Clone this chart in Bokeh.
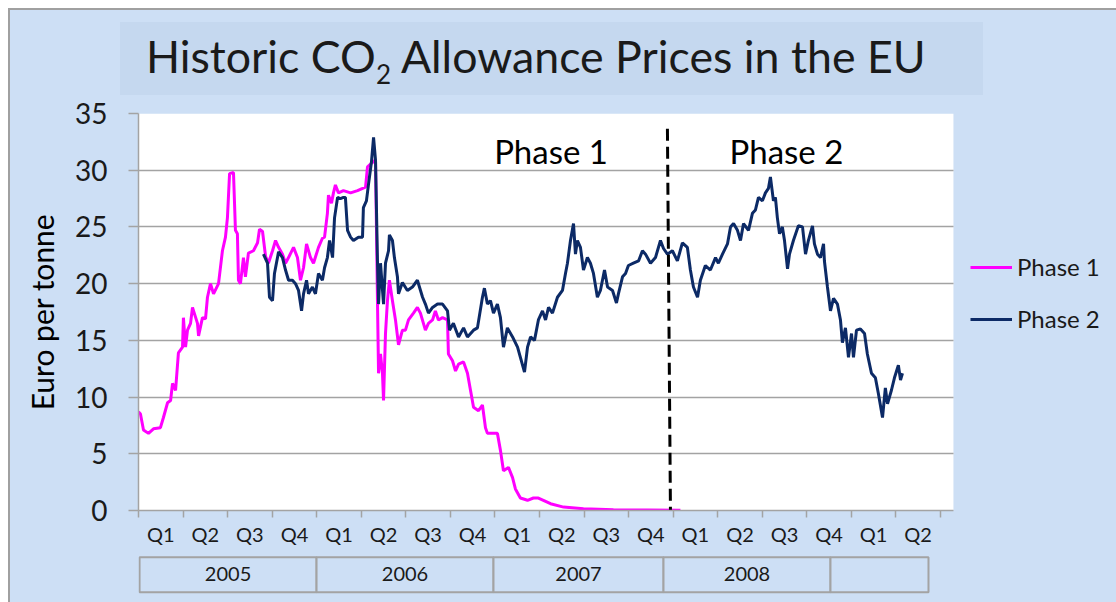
from bokeh.plotting import figure
from bokeh.models import Range1d, FixedTicker, Legend, LegendItem, Label, Div, Grid
from bokeh.layouts import column
from bokeh.embed import file_html
from bokeh.resources import INLINE
from bokeh.core.properties import value

# ---------------- data (x = years since 1 Jan 2005) ----------------
p1_t = [0.000, 0.011, 0.028, 0.056, 0.084, 0.123, 0.140, 0.163, 0.180, 0.191,
        0.208, 0.224, 0.247, 0.252, 0.264, 0.275, 0.292, 0.303, 0.309, 0.331,
        0.337, 0.359, 0.376, 0.387, 0.404, 0.421, 0.449, 0.471, 0.488, 0.499,
        0.511, 0.533, 0.544, 0.555, 0.561, 0.572, 0.589, 0.600, 0.617, 0.645,
        0.668, 0.679, 0.696, 0.713, 0.729, 0.752, 0.769, 0.786, 0.808, 0.825,
        0.842, 0.870, 0.892, 0.909, 0.926, 0.943, 0.965, 0.982, 1.010, 1.032,
        1.044, 1.060, 1.066, 1.083, 1.094, 1.105, 1.122, 1.150, 1.190, 1.229,
        1.274, 1.285, 1.313, 1.330, 1.341, 1.347, 1.358, 1.369, 1.375, 1.386,
        1.397, 1.408, 1.425, 1.442, 1.459, 1.481, 1.498, 1.515, 1.543, 1.565,
        1.582, 1.610, 1.627, 1.650, 1.666, 1.683, 1.706, 1.734, 1.739, 1.762,
        1.779, 1.796, 1.824, 1.846, 1.863, 1.880, 1.908, 1.930, 1.947, 1.958,
        2.014, 2.031, 2.048, 2.076, 2.099, 2.115, 2.143, 2.183, 2.216, 2.244,
        2.272, 2.312, 2.385, 2.497, 2.665, 3.041]
p1_v = [8.7, 8.5, 7.1, 6.8, 7.2, 7.3, 8.2, 9.5, 9.7, 11.2,
        10.6, 13.9, 14.4, 17.0, 14.4, 15.9, 16.5, 17.9, 17.6, 16.5,
        15.4, 17.0, 16.9, 18.8, 20.0, 19.1, 20.0, 22.9, 24.1, 25.8,
        29.7, 29.8, 24.7, 24.4, 20.3, 20.0, 22.3, 20.6, 22.7, 22.9,
        23.6, 24.8, 24.6, 22.4, 21.8, 22.9, 23.8, 23.2, 22.6, 21.8,
        22.3, 23.2, 22.3, 20.3, 21.4, 23.5, 22.3, 21.8, 23.2, 24.0,
        24.1, 26.2, 27.8, 27.1, 28.0, 28.7, 28.0, 28.2, 28.0, 28.2,
        28.5, 30.3, 30.7, 30.9, 18.5, 12.1, 13.8, 12.1, 9.7, 15.6,
        18.5, 20.3, 18.5, 16.8, 14.6, 15.9, 15.9, 16.8, 17.4, 17.9,
        17.4, 15.9, 16.5, 16.8, 17.6, 16.8, 17.0, 16.8, 13.8, 13.2,
        12.3, 12.9, 13.1, 12.1, 10.6, 9.1, 8.8, 9.3, 7.3, 6.8,
        6.8, 5.3, 3.5, 3.8, 2.9, 1.9, 1.1, 0.9, 1.1, 1.1,
        0.9, 0.6, 0.3, 0.15, 0.07, 0.02]

p2_t = [0.701, 0.724, 0.735, 0.752, 0.763, 0.786, 0.808, 0.825, 0.842, 0.864,
        0.881, 0.898, 0.915, 0.926, 0.943, 0.954, 0.976, 0.993, 1.010, 1.032,
        1.044, 1.060, 1.072, 1.089, 1.100, 1.117, 1.133, 1.150, 1.161, 1.173,
        1.190, 1.206, 1.234, 1.257, 1.262, 1.279, 1.291, 1.307, 1.319, 1.330,
        1.341, 1.347, 1.358, 1.375, 1.386, 1.403, 1.408, 1.425, 1.436, 1.453,
        1.459, 1.481, 1.509, 1.537, 1.565, 1.594, 1.610, 1.627, 1.650, 1.678,
        1.706, 1.734, 1.745, 1.767, 1.796, 1.824, 1.846, 1.880, 1.902, 1.930,
        1.941, 1.958, 1.975, 1.992, 2.014, 2.031, 2.048, 2.070, 2.099, 2.127,
        2.143, 2.166, 2.183, 2.200, 2.222, 2.244, 2.267, 2.284, 2.301, 2.323,
        2.351, 2.379, 2.396, 2.407, 2.424, 2.441, 2.452, 2.463, 2.480, 2.497,
        2.519, 2.536, 2.553, 2.575, 2.592, 2.615, 2.632, 2.660, 2.682, 2.693,
        2.716, 2.733, 2.749, 2.777, 2.806, 2.828, 2.845, 2.873, 2.901, 2.929,
        2.946, 2.968, 2.996, 3.024, 3.052, 3.080, 3.097, 3.114, 3.137, 3.153,
        3.181, 3.209, 3.238, 3.254, 3.277, 3.305, 3.322, 3.339, 3.361, 3.378,
        3.395, 3.423, 3.445, 3.462, 3.479, 3.501, 3.518, 3.535, 3.546, 3.563,
        3.574, 3.585, 3.597, 3.613, 3.625, 3.642, 3.653, 3.675, 3.703, 3.726,
        3.743, 3.759, 3.782, 3.793, 3.810, 3.827, 3.844, 3.849, 3.866, 3.883,
        3.900, 3.922, 3.939, 3.950, 3.967, 3.984, 4.001, 4.012, 4.029, 4.051,
        4.074, 4.090, 4.113, 4.135, 4.152, 4.175, 4.191, 4.203, 4.225, 4.242,
        4.264, 4.276, 4.287]
p2_v = [22.6, 21.8, 18.8, 18.5, 20.9, 22.8, 22.3, 21.2, 20.3, 20.3,
        20.0, 19.4, 17.6, 19.1, 20.3, 19.1, 19.7, 19.1, 20.9, 20.3,
        21.4, 22.3, 23.8, 22.3, 25.8, 27.6, 27.5, 27.6, 27.6, 24.7,
        24.1, 23.8, 24.1, 24.1, 26.7, 27.3, 28.8, 30.7, 32.9, 30.9,
        22.0, 18.2, 21.8, 18.2, 21.8, 22.9, 24.3, 23.8, 22.3, 20.6,
        19.1, 20.1, 19.4, 19.7, 20.3, 18.8, 18.2, 17.4, 17.9, 18.2,
        18.2, 17.6, 15.9, 16.5, 15.3, 16.1, 15.3, 15.9, 16.1, 18.8,
        19.6, 18.2, 18.5, 17.4, 18.2, 17.0, 14.4, 16.1, 15.3, 14.4,
        13.5, 12.2, 14.4, 15.3, 15.0, 16.8, 17.6, 16.8, 17.9, 17.4,
        18.8, 19.4, 20.9, 21.8, 23.8, 25.3, 22.6, 23.8, 23.2, 21.2,
        22.3, 21.8, 20.9, 18.8, 19.4, 21.2, 19.7, 19.4, 18.3, 19.1,
        20.6, 20.9, 21.6, 21.8, 22.0, 22.9, 22.6, 21.8, 22.3, 23.8,
        23.1, 22.6, 22.9, 22.0, 23.6, 23.2, 21.2, 19.7, 18.8, 20.3,
        21.6, 21.2, 22.3, 21.8, 22.6, 23.5, 25.0, 25.3, 24.7, 23.8,
        25.3, 24.7, 26.2, 26.5, 27.6, 27.3, 28.0, 28.4, 29.4, 27.3,
        27.6, 25.8, 24.4, 25.0, 23.8, 21.3, 22.6, 23.8, 25.1, 25.0,
        22.6, 23.8, 25.1, 23.5, 22.6, 22.3, 23.5, 22.0, 19.7, 17.6,
        18.7, 18.2, 16.8, 14.8, 16.1, 13.5, 15.6, 13.5, 15.9, 16.0,
        15.6, 13.8, 12.1, 11.7, 10.3, 8.2, 10.8, 9.4, 10.6, 11.7,
        12.8, 11.5, 12.1]

quarter_labels = ["Q1", "Q2", "Q3", "Q4"] * 4 + ["Q1", "Q2"]
year_labels = ["2005", "2006", "2007", "2008", ""]
year_box_edges = [0.006, 0.999, 1.992, 2.946, 3.883, 4.433]
y_ticks = [0, 5, 10, 15, 20, 25, 30, 35]
series_names = ["Phase 1", "Phase 2"]
phase_text = ["Phase 1", "Phase 2"]
phase_text_x = [2.315, 3.636]
phase_text_y = [31.68, 31.68]
split_x = [2.968, 2.985]
split_y = [33.66, 0.0]
title_parts = ["Historic CO", "2", " Allowance Prices in the EU"]

# ---------------- style ----------------
BG = "#cddff5"
TITLE_BG = "#c5d8ef"
GRID = "#a3a3a3"
MAGENTA = "#ff00ff"
NAVY = "#0c2a66"
FONT = "Lato"
TXT = "#1a1a1a"
W = 1106
ML = 128
X_END = 4.573          # right edge of the white plot area (years since 2005)
X_VIEW = 5.488         # frame reaches the right edge of the page (legend lives there)
Y_END = 35

# ---------------- title block ----------------
title_html = (f"{title_parts[0]}<span style='font-size:26px;vertical-align:-11px;line-height:0'>"
              f"{title_parts[1]}</span>{title_parts[2]}")
title = Div(text=title_html, width=863, height=73, margin=(12, 0, 0, 110),
            styles={"background-color": TITLE_BG, "font-family": FONT, "font-size": "44.7px",
                    "line-height": "68px", "text-indent": "26px", "color": TXT,
                    "white-space": "nowrap", "overflow": "hidden"})

# ---------------- main chart ----------------
p = figure(width=W, height=457, x_range=Range1d(0, X_VIEW), y_range=Range1d(0, Y_END),
           output_backend="svg", toolbar_location=None,
           min_border_left=ML, min_border_right=0, min_border_top=18, min_border_bottom=42,
           background_fill_color=BG, border_fill_color=BG, outline_line_color=None)

# white plot area
p.quad(left=[0], right=[X_END], bottom=[0], top=[Y_END], fill_color="white",
       line_color=None, level="image")

r1 = p.line(p1_t, p1_v, line_color=MAGENTA, line_width=3)
r2 = p.line(p2_t, p2_v, line_color=NAVY, line_width=3)
p.line(split_x, split_y, line_color="black", line_width=3, line_dash="12 6")

for tx, ty, tt in zip(phase_text_x, phase_text_y, phase_text):
    p.add_layout(Label(x=tx, y=ty, text=tt, text_align="center", text_baseline="alphabetic",
                       text_font=FONT, text_font_size="33px", text_color="black"))

q_edges = [i * 0.25 for i in range(19)]
q_centers = [i * 0.25 + 0.125 for i in range(len(quarter_labels))]
xax = p.xaxis[0]
xax.bounds = (0, X_END)
xax.ticker = FixedTicker(ticks=q_centers, minor_ticks=q_edges)
xax.major_label_overrides = {c: l for c, l in zip(q_centers, quarter_labels)}
xax.major_tick_line_color = None
xax.major_tick_out = 0
xax.major_tick_in = 0
xax.minor_tick_line_color = GRID
xax.minor_tick_line_width = 1.5
xax.minor_tick_out = 7
xax.minor_tick_in = 0
xax.axis_line_color = GRID
xax.axis_line_width = 1.5
xax.major_label_text_font = FONT
xax.major_label_text_font_size = "20px"
xax.major_label_text_color = TXT
xax.major_label_standoff = 4

yax = p.yaxis[0]
yax.ticker = FixedTicker(ticks=y_ticks)
yax.major_tick_line_color = GRID
yax.major_tick_line_width = 1.5
yax.major_tick_out = 10
yax.major_tick_in = 0
yax.minor_tick_line_color = None
yax.axis_line_color = GRID
yax.axis_line_width = 1.5
yax.major_label_text_font = FONT
yax.major_label_text_font_size = "28px"
yax.major_label_text_color = TXT
yax.major_label_standoff = 21
yax.axis_label = "Euro per tonne"
yax.axis_label_text_font = FONT
yax.axis_label_text_font_size = "30px"
yax.axis_label_text_font_style = "normal"
yax.axis_label_text_color = "black"
yax.axis_label_standoff = 12

p.xgrid.visible = False
if "cross_bounds" in Grid.properties():
    p.ygrid.grid_line_color = GRID
    p.ygrid.grid_line_width = 1.5
    p.ygrid.cross_bounds = (0, X_END)
else:
    p.ygrid.visible = False
    p.segment(x0=[0] * len(y_ticks), x1=[X_END] * len(y_ticks), y0=y_ticks, y1=y_ticks,
              line_color=GRID, line_width=1.5, level="underlay")

legend = Legend(items=[LegendItem(label=series_names[0], renderers=[r1]),
                       LegendItem(label=series_names[1], renderers=[r2])],
                location=(832, 177), orientation="vertical",
                glyph_width=42, glyph_height=20, label_height=20, label_standoff=5,
                spacing=23, padding=0, margin=0,
                border_line_color=None, background_fill_alpha=0,
                label_text_font=FONT, label_text_font_size="24px", label_text_color=TXT)
p.add_layout(legend)

# ---------------- year boxes ----------------
yf = figure(width=W, height=50, x_range=Range1d(0, X_VIEW), y_range=Range1d(0, 50),
            x_axis_type=None, y_axis_type=None, output_backend="svg", toolbar_location=None,
            min_border_left=ML, min_border_right=0, min_border_top=0, min_border_bottom=0,
            background_fill_color=BG, border_fill_color=BG, outline_line_color=None)
yf.grid.visible = False
yf.quad(left=year_box_edges[:-1], right=year_box_edges[1:], bottom=10.3, top=45.3,
        fill_color=BG, line_color=GRID, line_width=2)
yc = [(a + b) / 2 for a, b in zip(year_box_edges[:-1], year_box_edges[1:])]
yf.text(x=yc, y=[29] * len(yc), text=year_labels, text_font=value(FONT), text_font_size="20px",
        text_align="center", text_baseline="middle", text_color=TXT)

layout = column(title, p, yf, spacing=0, margin=(8, 0, 0, 8),
                styles={"border-top": "2px solid #a0a0a0", "border-left": "2px solid #a0a0a0",
                        "background-color": BG})

open("out.html", "w").write(file_html(layout, INLINE, title="CO2 prices"))
